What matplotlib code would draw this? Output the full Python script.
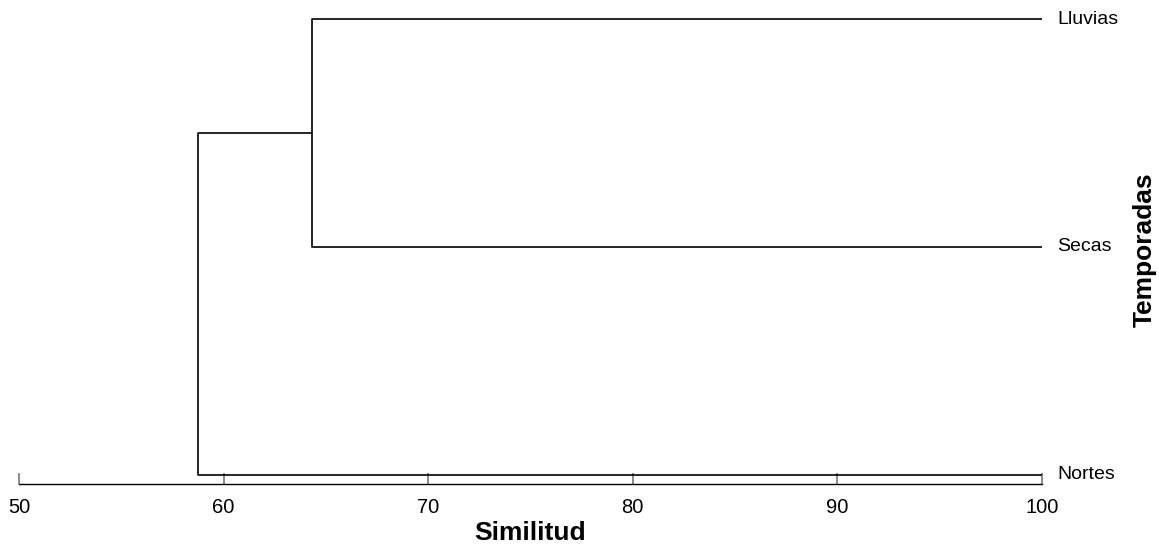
import matplotlib
matplotlib.use("Agg")
import matplotlib.pyplot as plt

plt.rcParams['font.family'] = ['Liberation Sans', 'DejaVu Sans']

# leaves (bottom to top) and merge similarity levels
leaves = ['Nortes', 'Secas', 'Lluvias']
merge_lluvias_secas = 64.3
merge_all = 58.75
x_ticks = [50, 60, 70, 80, 90, 100]

fig = plt.figure(figsize=(11.59, 5.48), dpi=100)
ax = fig.add_axes([19 / 1159, 64 / 548, 1023 / 1159, 465 / 548])

ypos = {name: i for i, name in enumerate(leaves)}
lw = 1.2
kw = dict(color='black', linewidth=lw, clip_on=False, solid_capstyle='butt')

# Lluvias + Secas
y_l, y_s, y_n = ypos['Lluvias'], ypos['Secas'], ypos['Nortes']
ax.plot([100, merge_lluvias_secas, merge_lluvias_secas, 100], [y_l, y_l, y_s, y_s], **kw)
y_mid = (y_l + y_s) / 2
# join with Nortes
ax.plot([merge_lluvias_secas, merge_all, merge_all, 100], [y_mid, y_mid, y_n, y_n], **kw)

for name in leaves:
    ax.text(100.75, ypos[name], name, fontsize=14, va='center', ha='left')

ax.set_xlim(50, 100)
ax.set_ylim(-0.04, 2.0)
ax.set_xticks(x_ticks)
ax.set_yticks([])
for s in ['top', 'right', 'left']:
    ax.spines[s].set_visible(False)
ax.spines['bottom'].set_linewidth(1.0)
ax.tick_params(axis='x', direction='in', length=8, width=1.2, color='#777777',
               labelsize=14.5, pad=10)
ax.set_xlabel('Similitud', fontsize=19, fontweight='bold', labelpad=3)

fig.text(1145 / 1159, 0.545, 'Temporadas', rotation=90, fontsize=19,
         fontweight='bold', ha='center', va='center')

fig.savefig('out.png', dpi=100)
